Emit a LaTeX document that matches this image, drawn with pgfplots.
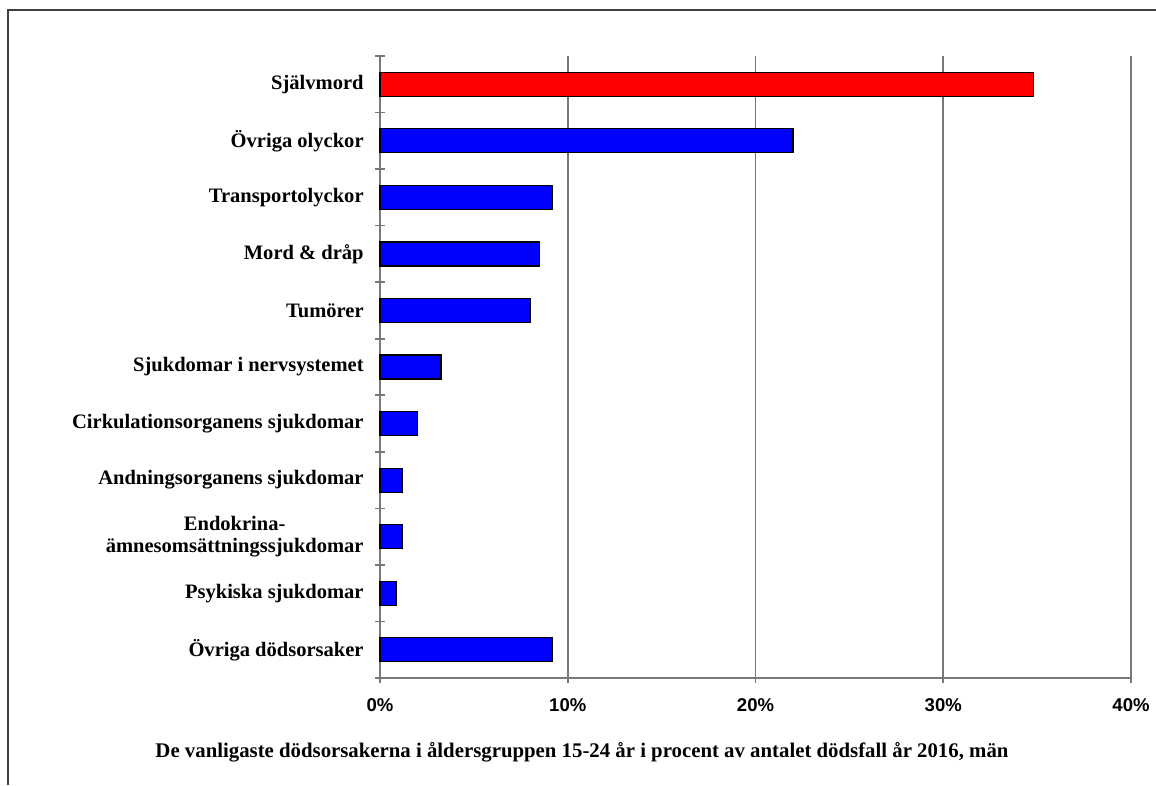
\documentclass[border=0pt]{standalone}
\usepackage{pgfplots}
\pgfplotsset{compat=1.18}
\usepackage{fontspec}
\setmainfont{Liberation Serif}
\newfontfamily\arialb{Liberation Sans}[BoldFont={* Bold}]
\definecolor{barred}{RGB}{255,0,0}
\definecolor{barblue}{RGB}{0,0,255}
\definecolor{gridgray}{RGB}{120,120,120}
\begin{document}
\begin{tikzpicture}
\useasboundingbox (0,0) rectangle (867pt,-588.75pt);
\draw[line width=1.4pt, black!75] (6pt,-588.75pt) -- (6pt,-7.5pt) -- (867pt,-7.5pt);
\begin{axis}[
  scale only axis,
  width=563.25pt, height=466.5pt,
  at={(285pt,-508.5pt)}, anchor=south west,
  xbar, bar width=18pt, bar shift=0pt,
  xmin=0, xmax=40,
  ymin=-0.5, ymax=10.5,
  y dir=reverse,
  axis x line*=bottom, axis y line*=left,
  axis line style={gridgray, line width=1.2pt, -},
  xtick={0,10,20,30,40},
  /pgf/number format/assume math mode=true,
  xticklabel={\pgfmathprintnumber{\tick}\%},
  xticklabel style={font=\arialb\bfseries\fontsize{13.9}{16}\selectfont, yshift=-8pt},
  xmajorgrids,
  grid style={gridgray, line width=1.2pt},
  ytick={0,...,10},
  yticklabels={Självmord, Övriga olyckor, Transportolyckor, Mord \& dråp, Tumörer, Sjukdomar i nervsystemet, Cirkulationsorganens sjukdomar, Andningsorganens sjukdomar, {Endokrina-\\ämnesomsättningssjukdomar}, Psykiska sjukdomar, Övriga dödsorsaker},
  yticklabel style={font=\bfseries\fontsize{15.4}{17}\selectfont, align=center, xshift=-5pt},
  minor ytick={-0.5,0.5,...,10.5},
  every major y tick/.append style={draw=none},
  tick style={gridgray, line width=1.2pt},
  tick align=center,
  major tick length=7.5pt, minor tick length=7.5pt,
  clip=false,
]
\addplot[fill=barred, draw=black, line width=0.9pt] coordinates {(34.8,0)};
\addplot[fill=barblue, draw=black, line width=0.9pt] coordinates {
(22.0,1) (9.2,2) (8.5,3) (8.0,4) (3.25,5) (2.0,6) (1.2,7) (1.2,8) (0.85,9) (9.2,10)};
\end{axis}
\node[font=\bfseries\fontsize{15.6}{17}\selectfont] at (436.5pt,-564pt) {De vanligaste dödsorsakerna i åldersgruppen 15-24 år i procent av antalet dödsfall år 2016, män};
\end{tikzpicture}
\end{document}
